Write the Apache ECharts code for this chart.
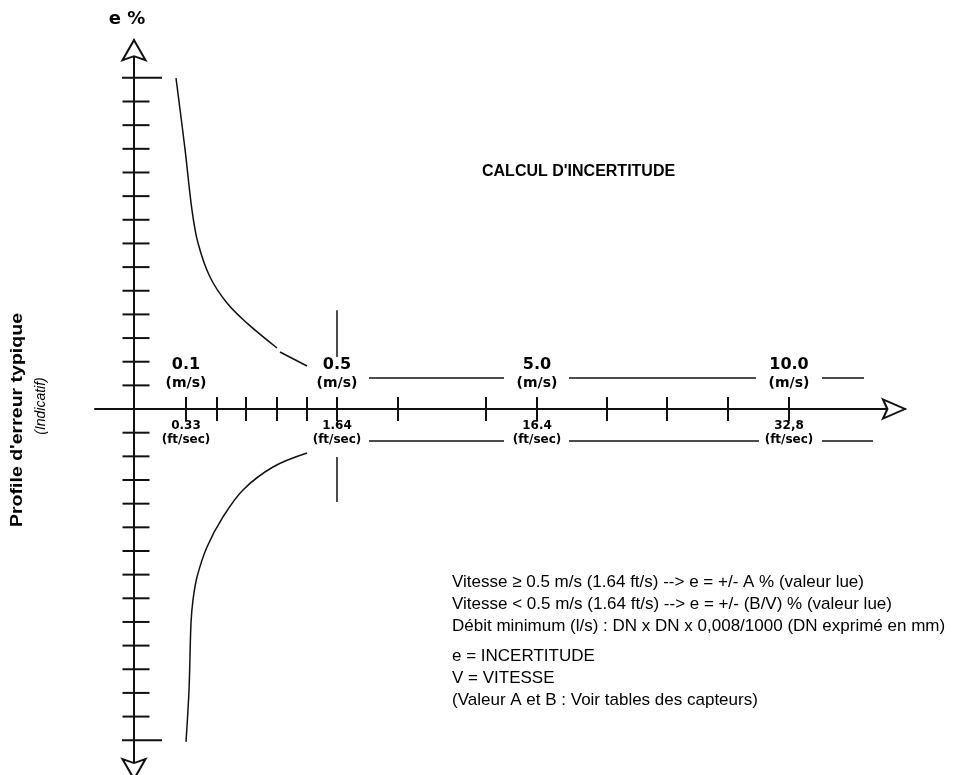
<!DOCTYPE html>
<html>
<head>
<meta charset="utf-8">
<title>Calcul d'incertitude</title>
<script src="https://cdn.jsdelivr.net/npm/echarts@6.0.0/dist/echarts.min.js"></script>
<style>
  html, body { margin: 0; padding: 0; background: #fff; }
  #chart { width: 965px; height: 775px; }
</style>
</head>
<body>
<div id="chart"></div>
<script>
// position units along the speed axis (schematic, not linear in m/s)
var speedTicks = [5.2, 8.3, 11.2, 14.3, 17.3, 20.3, 26.4, 35.2, 40.3, 47.3, 53.3, 59.4, 65.5];
var speedLabelPos = [5.2, 20.3, 40.3, 65.5];
var speedMs = ['0.1', '0.5', '5.0', '10.0'];
var speedFt = ['0.33', '1.64', '16.4', '32,8'];
var errorTicks = [-14, -13, -12, -11, -10, -9, -8, -7, -6, -5, -4, -3, -2, -1,
                  1, 2, 3, 4, 5, 6, 7, 8, 9, 10, 11, 12, 13, 14];
var errorEnds = [-14, 14];

// error profile below 0.5 m/s (B/V)
var upperCurveA = [[4.2, 13.99], [5.1, 10.99], [5.8, 8.41], [6.4, 7.02], [7.6, 5.58],
                   [9.3, 4.48], [11.3, 3.63], [14.3, 2.58]];
var upperCurveB = [[14.6, 2.41], [17.3, 1.82]];
var lowerCurve = [[17.3, -1.86], [13.9, -2.45], [10.9, -3.42], [8.9, -4.56], [7.3, -5.83],
                  [6.3, -7.10], [5.9, -8.07], [5.7, -9.04], [5.5, -11.88], [5.2, -14.07]];

// constant error above 0.5 m/s (A %)
var upperLevel = 1.31;
var lowerLevel = -1.35;
var upperSegments = [[23.5, 37.0], [43.5, 62.2], [68.8, 73.0]];
var lowerSegments = [[23.5, 37.0], [43.5, 62.5], [68.8, 73.9]];
var halfSpeedMark = [[4.18, 2.20], [-2.03, -3.93]];

var ink = '#111';
var arrowPath = 'path://M12,0 L24,20 L12,16 L0,20 Z';

function lineSeries(data, width) {
  return {
    type: 'line', data: data, symbol: 'none', smooth: 0.35, silent: true,
    lineStyle: { color: ink, width: width || 1.5 }, z: 3
  };
}

function textSeries(pos, texts, y, size) {
  return {
    type: 'scatter', symbolSize: 0, silent: true, z: 5,
    itemStyle: { opacity: 1 },
    data: pos.map(function (x, i) { return { value: [x, y], name: texts[i] }; }),
    label: {
      show: true, position: 'inside', formatter: '{b}', color: '#000',
      textBorderWidth: 0,
      fontFamily: 'DejaVu Sans', fontWeight: 'bold', fontSize: size
    }
  };
}

var series = [];
series.push(lineSeries(upperCurveA));
series.push(lineSeries(upperCurveB));
series.push(lineSeries(lowerCurve));
upperSegments.forEach(function (s) {
  series.push(lineSeries([[s[0], upperLevel], [s[1], upperLevel]]));
});
lowerSegments.forEach(function (s) {
  series.push(lineSeries([[s[0], lowerLevel], [s[1], lowerLevel]]));
});
halfSpeedMark.forEach(function (s) {
  series.push(lineSeries([[speedLabelPos[1], s[0]], [speedLabelPos[1], s[1]]]));
});

// ticks crossing the axes
series.push({
  type: 'scatter', silent: true, symbol: 'rect', symbolSize: [27, 2], symbolOffset: [2, 0],
  itemStyle: { color: ink, opacity: 1 }, z: 4,
  data: errorTicks.filter(function (v) { return errorEnds.indexOf(v) < 0; })
    .map(function (v) { return [0, v]; })
});
series.push({
  type: 'scatter', silent: true, symbol: 'rect', symbolSize: [40, 2], symbolOffset: [8, 0],
  itemStyle: { color: ink, opacity: 1 }, z: 4,
  data: errorEnds.map(function (v) { return [0, v]; })
});
series.push({
  type: 'scatter', silent: true, symbol: 'rect', symbolSize: [2, 24],
  itemStyle: { color: ink, opacity: 1 }, z: 4,
  data: speedTicks.map(function (x) { return [x, 0]; })
});

// hollow arrow heads
series.push({
  type: 'scatter', silent: true, clip: false, symbol: arrowPath, z: 6,
  itemStyle: { color: '#fff', borderColor: ink, borderWidth: 2, opacity: 1 },
  data: [
    { value: [0, 15.17], symbolSize: [23, 20], symbolRotate: 0 },
    { value: [0, -15.22], symbolSize: [23, 20], symbolRotate: 180 },
    { value: [76.0, 0], symbolSize: [19, 22], symbolRotate: -90 }
  ]
});

series.push(textSeries(speedLabelPos, speedMs, 1.86, 16));
series.push(textSeries(speedLabelPos, speedMs.map(function () { return '(m/s)'; }), 1.10, 14));
series.push(textSeries(speedLabelPos, speedFt, -0.72, 12));
series.push(textSeries(speedLabelPos, speedFt.map(function () { return '(ft/sec)'; }), -1.30, 12));

var chart = echarts.init(document.getElementById('chart'));
chart.setOption({
  animation: false,
  backgroundColor: '#fff',
  title: {
    text: "CALCUL D'INCERTITUDE", left: 477, top: 159,
    textStyle: { fontFamily: 'Liberation Sans', fontWeight: 'bold', fontSize: 16, color: '#000' }
  },
  grid: { left: 95, right: 60, top: 40, bottom: 0, outerBoundsMode: 'none' },
  xAxis: {
    type: 'value', min: -3.9, max: 77.1,
    axisLine: { onZero: true, lineStyle: { color: ink, width: 2 } },
    axisTick: { show: false }, axisLabel: { show: false }, splitLine: { show: false }
  },
  yAxis: {
    type: 'value', min: -15.47, max: 15.6,
    axisLine: { onZero: true, lineStyle: { color: ink, width: 2 } },
    axisTick: { show: false }, axisLabel: { show: false }, splitLine: { show: false }
  },
  graphic: [
    {
      type: 'text', x: 127, y: 19,
      style: { text: 'e %', fontFamily: 'DejaVu Sans', fontWeight: 'bold', fontSize: 18,
               fill: '#000', textAlign: 'center', textVerticalAlign: 'middle' }
    },
    {
      type: 'text', x: 18, y: 420, rotation: Math.PI / 2, scaleX: 1.22,
      style: { text: "Profile d'erreur typique", fontFamily: 'Liberation Sans', fontWeight: 'bold',
               fontSize: 16, fill: '#000', textAlign: 'center', textVerticalAlign: 'middle' }
    },
    {
      type: 'text', x: 41, y: 406, rotation: Math.PI / 2,
      style: { text: '(Indicatif)', fontFamily: 'Liberation Sans', fontStyle: 'italic',
               fontSize: 14, fill: '#000', textAlign: 'center', textVerticalAlign: 'middle' }
    },
    {
      type: 'text', x: 452, y: 571,
      style: {
        text: 'Vitesse \u2265 0.5 m/s (1.64 ft/s) --> e = +/- A % (valeur lue)\n' +
              'Vitesse < 0.5 m/s (1.64 ft/s) --> e = +/- (B/V) % (valeur lue)\n' +
              'D\u00e9bit minimum (l/s) : DN x DN x 0,008/1000 (DN exprim\u00e9 en mm)',
        fontFamily: 'Liberation Sans', fontSize: 17, lineHeight: 22, fill: '#000'
      }
    },
    {
      type: 'text', x: 452, y: 645,
      style: {
        text: 'e = INCERTITUDE\nV = VITESSE\n(Valeur A et B : Voir tables des capteurs)',
        fontFamily: 'Liberation Sans', fontSize: 17, lineHeight: 22, fill: '#000'
      }
    }
  ],
  series: series
});
</script>
</body>
</html>
